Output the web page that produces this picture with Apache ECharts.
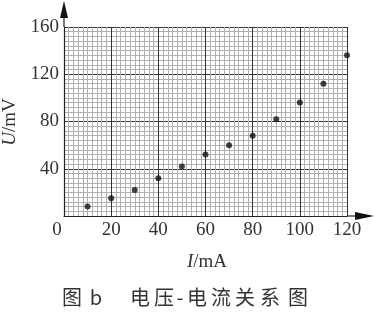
<!DOCTYPE html>
<html>
<head>
<meta charset="utf-8">
<script src="https://cdn.jsdelivr.net/npm/echarts@6/dist/echarts.min.js"></script>
<style>
  html, body { margin: 0; padding: 0; background: #fff; }
  #chart { width: 375px; height: 314px; }
</style>
</head>
<body>
<div id="chart"></div>
<script>
// measured current (mA) and voltage (mV)
const current = [10, 20, 30, 40, 50, 60, 70, 80, 90, 100, 110, 120];
const voltage = [8, 15, 22, 32, 42, 52, 60, 68, 82, 96, 112, 136];
const xTicks = [0, 20, 40, 60, 80, 100, 120];
const yTicks = [0, 40, 80, 120, 160];

const serif = '"Liberation Serif", "DejaVu Serif", serif';
const chart = echarts.init(document.getElementById('chart'));

const option = {
    animation: false,
    grid: { left: 64, top: 27, right: 28, bottom: 98 },
    xAxis: {
        type: 'value',
        min: xTicks[0],
        max: xTicks[xTicks.length - 1],
        interval: xTicks[1] - xTicks[0],
        axisLine: { show: true, lineStyle: { color: '#222', width: 1.2 } },
        axisTick: { show: false },
        axisLabel: {
            color: '#333',
            fontFamily: serif,
            fontSize: 19,
            margin: 5,
            formatter: (v) => (v === 0 ? '' : String(v)),
        },
        splitLine: { show: true, lineStyle: { color: '#333', width: 1 } },
        minorTick: { show: false, splitNumber: 10 },
        minorSplitLine: { show: true, lineStyle: { color: '#b0b0b0', width: 1 } },
    },
    yAxis: {
        type: 'value',
        min: yTicks[0],
        max: yTicks[yTicks.length - 1],
        interval: yTicks[1] - yTicks[0],
        axisLine: { show: true, lineStyle: { color: '#222', width: 1.2 } },
        axisTick: { show: false },
        axisLabel: {
            color: '#333',
            fontFamily: serif,
            fontSize: 19,
            margin: 5,
            formatter: (v) => (v === 0 ? '' : String(v)),
        },
        splitLine: { show: true, lineStyle: { color: '#333', width: 1 } },
        minorTick: { show: false, splitNumber: 10 },
        minorSplitLine: { show: true, lineStyle: { color: '#b0b0b0', width: 1 } },
    },
    series: [
        {
            type: 'scatter',
            data: current.map((c, i) => [c, voltage[i]]),
            symbolSize: 6,
            itemStyle: { color: '#111' },
            z: 5,
        },
    ],
};
chart.setOption(option);

// arrows, axis names and caption
const o = chart.convertToPixel({ gridIndex: 0 }, [0, 0]);
const tr = chart.convertToPixel({ gridIndex: 0 }, [120, 160]);
const cjk = '20px "Noto Sans CJK SC", sans-serif';
const caption = [];
// 图 b  电压-电流关系图, each glyph placed with wide print spacing
const capChars = ['图', 'b', '电', '压', '-', '电', '流', '关', '系', '图'];
const capX = [72, 96, 140, 164, 180, 197, 221, 245, 270, 298];
capChars.forEach((t, i) => {
    caption.push({ type: 'text', x: capX[i], y: 297, style: { text: t, font: cjk, fill: '#333', align: 'center', verticalAlign: 'middle' } });
});
chart.setOption({
    graphic: [
        { type: 'line', shape: { x1: o[0], y1: tr[1], x2: o[0], y2: 10 }, style: { stroke: '#222', lineWidth: 1.2 } },
        { type: 'polygon', shape: { points: [[o[0], 1], [o[0] - 4, 18], [o[0] + 4, 18]] }, style: { fill: '#111' } },
        { type: 'line', shape: { x1: tr[0], y1: o[1], x2: 365, y2: o[1] }, style: { stroke: '#222', lineWidth: 1.2 } },
        { type: 'polygon', shape: { points: [[374, o[1]], [355, o[1] - 4], [355, o[1] + 4]] }, style: { fill: '#111' } },
        {
            type: 'text', x: o[0] - 7, y: o[1] + 5,
            style: { text: '0', font: '19px ' + serif, fill: '#333', align: 'center', verticalAlign: 'top' },
        },
        {
            type: 'text', x: 10, y: 122, rotation: Math.PI / 2,
            style: {
                text: '{i|U}/mV', fill: '#333', align: 'center', verticalAlign: 'middle',
                font: '19px ' + serif,
                rich: { i: { fontStyle: 'italic', fontFamily: serif, fontSize: 19, fill: '#333' } },
            },
        },
        {
            type: 'text', x: 207, y: 262,
            style: {
                text: '{i|I}/mA', fill: '#333', align: 'center', verticalAlign: 'middle',
                font: '19px ' + serif,
                rich: { i: { fontStyle: 'italic', fontFamily: serif, fontSize: 19, fill: '#333' } },
            },
        },
    ].concat(caption),
});
</script>
</body>
</html>
